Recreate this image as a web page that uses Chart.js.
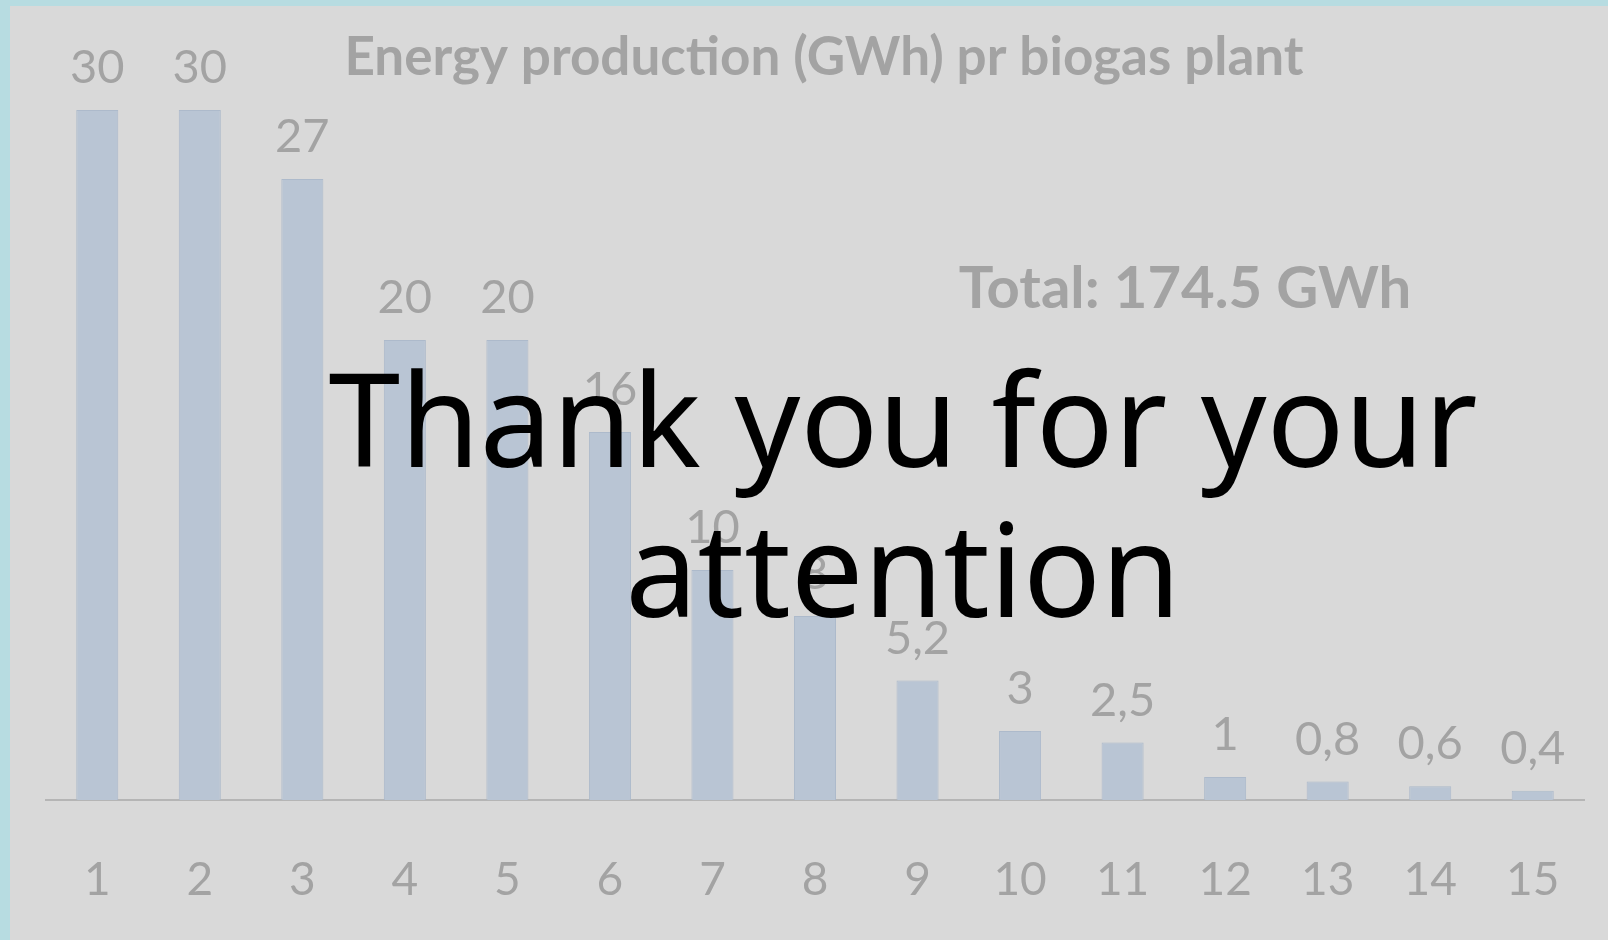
<!DOCTYPE html>
<html>
<head>
<meta charset="utf-8">
<script src="https://cdn.jsdelivr.net/npm/chart.js@4.4.1/dist/chart.umd.min.js"></script>
<style>
  html, body { margin: 0; padding: 0; }
  body { width: 1608px; height: 940px; background: #b7dce1; position: relative; overflow: hidden; }
  #slide { position: absolute; left: 10px; top: 6px; width: 1598px; height: 934px; background: #d9d9d9; }
  #overlay {
    position: absolute; left: 0; top: 0; width: 1608px; text-align: center;
    font-family: "Noto Sans", "Open Sans", sans-serif; font-size: 129px; line-height: 150px;
    color: #000; padding-top: 342px; padding-left: 198px; box-sizing: border-box;
  }
</style>
</head>
<body>
<div id="slide"><canvas id="chart" width="1598" height="934"></canvas></div>
<div id="overlay">Thank you for your<br>attention</div>
<script>
const plants = ['1', '2', '3', '4', '5', '6', '7', '8', '9', '10', '11', '12', '13', '14', '15'];
const production = [30, 30, 27, 20, 20, 16, 10, 8, 5.2, 3, 2.5, 1, 0.8, 0.6, 0.4];
const chartTitle = 'Energy production (GWh) pr biogas plant';
const totalText = 'Total: 174.5 GWh';

const textGray = '#a3a3a3';

const labelsPlugin = {
    id: 'valueLabels',
    afterDatasetsDraw(chart) {
        const ctx = chart.ctx;
        const meta = chart.getDatasetMeta(0);
        ctx.save();
        ctx.fillStyle = textGray;
        ctx.font = '47px Lato, sans-serif';
        ctx.textAlign = 'center';
        ctx.textBaseline = 'middle';
        meta.data.forEach((bar, i) => {
            const txt = String(production[i]).replace('.', ',');
            ctx.fillText(txt, bar.x, bar.y - 42);
        });
        // heading texts
        ctx.font = 'bold 53px Lato, sans-serif';
        ctx.fillText(chartTitle, 814, 52);
        ctx.font = 'bold 58px Lato, sans-serif';
        ctx.fillText(totalText, 1175, 283);
        ctx.restore();
    }
};

const ctx = document.getElementById('chart').getContext('2d');
const myChart = new Chart(ctx, {
    type: 'bar',
    data: {
        labels: plants,
        datasets: [{
            data: production,
            backgroundColor: '#b9c5d4',
            borderColor: '#adbacb',
            borderWidth: 1,
            categoryPercentage: 1,
            barPercentage: 0.41
        }]
    },
    options: {
        responsive: false,
        animation: false,
        layout: { padding: { left: 36, right: 24, top: 58, bottom: 0 } },
        plugins: { legend: { display: false }, tooltip: { enabled: false } },
        scales: {
            y: { display: false, min: 0, max: 32 },
            x: {
                afterFit(scale) {
                    scale.height = 140;
                    // don't let the last tick label widen the right margin
                    scale.paddingLeft = 0;
                    scale.paddingRight = 0;
                },
                grid: { display: false, drawTicks: false },
                border: { color: '#b5b5b5', width: 2 },
                ticks: { color: textGray, font: { family: 'Lato', size: 46 }, padding: 53 }
            }
        }
    },
    plugins: [labelsPlugin]
});
</script>
</body>
</html>
